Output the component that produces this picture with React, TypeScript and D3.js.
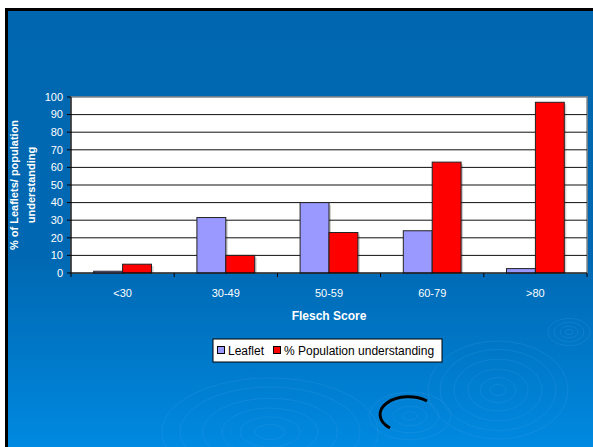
import React from 'react';
import * as d3 from 'd3';

const categories = ['<30', '30-49', '50-59', '60-79', '>80'];
const seriesNames = ['Leaflet', '% Population understanding'];
const leafletValues = [1, 31.5, 40, 24, 2.5];
const populationValues = [5, 10, 23, 63, 97];
const yTicks = [0, 10, 20, 30, 40, 50, 60, 70, 80, 90, 100];
const seriesColors = ['#9999ff', '#ff0000'];

const W = 593;
const H = 447;
const plot = { left: 71, right: 587, top: 97, bottom: 273 };
const font = '"Liberation Sans", Arial, sans-serif';

export default function App() {
  const x = d3.scaleBand<string>().domain(categories).range([plot.left, plot.right]);
  const bw = x.bandwidth();
  const xs = d3.scaleBand<string>().domain(seriesNames).range([bw * 0.22, bw * 0.78]);
  const y = d3.scaleLinear().domain([0, 100]).range([plot.bottom, plot.top]);

  const rows = categories.map((c, i) => ({ cat: c, vals: [leafletValues[i], populationValues[i]] }));

  return (
    <svg width={W} height={H} style={{ position: 'absolute', left: 0, top: 0 }} fontFamily={font}>
      <defs>
        <linearGradient id="bg" x1="0" y1="0" x2="0" y2="1">
          <stop offset="0" stopColor="#0066b0" />
          <stop offset="0.55" stopColor="#0068b2" />
          <stop offset="0.8" stopColor="#007bcc" />
          <stop offset="1" stopColor="#008ce4" />
        </linearGradient>
      </defs>
      <rect width={W} height={H} fill="#fff" />
      <rect x={5} y={8} width={W} height={H} fill="#000" />
      <rect x={8} y={11} width={W} height={H} fill="url(#bg)" />

      {/* ripples */}
      <g fill="none" stroke="#3d9ce6" strokeOpacity={0.25}>
        {[10, 20, 32, 45, 60, 72].map(r => (
          <ellipse key={'a' + r} cx={270} cy={432} rx={r * 1.5} ry={r * 0.75} />
        ))}
        {[8, 18, 30, 44, 58, 70].map(r => (
          <ellipse key={'b' + r} cx={498} cy={390} rx={r} ry={r * 0.7} />
        ))}
        {[4, 9, 15, 21].map(r => (
          <ellipse key={'c' + r} cx={569} cy={332} rx={r} ry={r * 0.65} />
        ))}
        {[6, 14, 24, 34].map(r => (
          <ellipse key={'d' + r} cx={410} cy={416} rx={r * 1.2} ry={r * 0.7} />
        ))}
      </g>
      <path d="M 390 428 A 24 15 0 0 1 427 401" fill="none" stroke="#000" strokeWidth={3} />

      {/* plot area */}
      <rect x={plot.left} y={plot.top} width={plot.right - plot.left} height={plot.bottom - plot.top}
        fill="#fff" stroke="#888" strokeWidth={1.5} />
      {yTicks.filter(t => t > 0 && t < 100).map(t => (
        <line key={t} x1={plot.left} x2={plot.right} y1={y(t)} y2={y(t)} stroke="#111" strokeWidth={1} />
      ))}

      {/* bars */}
      {rows.map(r => (
        <g key={r.cat} transform={`translate(${x(r.cat)},0)`}>
          {r.vals.map((v, j) => (
            <rect key={'s' + j} x={(xs(seriesNames[j]) as number) + 2} y={y(v) + 2}
              width={xs.bandwidth()} height={plot.bottom - y(v) - 2} fill="#000" fillOpacity={0.18} />
          ))}
          {r.vals.map((v, j) => (
            <rect key={j} x={xs(seriesNames[j])} y={y(v)} width={xs.bandwidth()}
              height={plot.bottom - y(v)} fill={seriesColors[j]} stroke="#222" strokeWidth={1} />
          ))}
        </g>
      ))}

      {/* y axis */}
      <line x1={plot.left} x2={plot.left} y1={plot.top} y2={plot.bottom} stroke="#000" />
      {yTicks.map(t => (
        <g key={t}>
          <line x1={plot.left - 4} x2={plot.left} y1={y(t)} y2={y(t)} stroke="#000" />
          <text x={plot.left - 8} y={y(t)} dy="0.35em" textAnchor="end" fontSize={11} fill="#fff">{t}</text>
        </g>
      ))}

      {/* x axis */}
      <line x1={plot.left} x2={plot.right} y1={plot.bottom} y2={plot.bottom} stroke="#000" />
      {categories.map((c, i) => (
        <line key={'t' + i} x1={x(c)} x2={x(c)} y1={plot.bottom} y2={plot.bottom + 4} stroke="#000" />
      ))}
      <line x1={plot.right} x2={plot.right} y1={plot.bottom} y2={plot.bottom + 4} stroke="#000" />
      {categories.map(c => (
        <text key={c} x={(x(c) as number) + bw / 2} y={297} textAnchor="middle" fontSize={11} fill="#fff">{c}</text>
      ))}
      <text x={(plot.left + plot.right) / 2} y={320} textAnchor="middle" fontSize={12} fontWeight="bold" fill="#fff">Flesch Score</text>

      {/* y title */}
      <g transform={`translate(18,${(plot.top + plot.bottom) / 2}) rotate(-90)`}>
        <text x={0} y={0} textAnchor="middle" fontSize={11} fontWeight="bold" fill="#fff">% of Leaflets/ population</text>
        <text x={0} y={17} textAnchor="middle" fontSize={11} fontWeight="bold" fill="#fff">understanding</text>
      </g>

      {/* legend */}
      <rect x={213} y={339} width={229} height={23} fill="#fff" stroke="#000" />
      <rect x={217.5} y={346.5} width={7} height={7} fill={seriesColors[0]} stroke="#000" />
      <text x={228} y={355} fontSize={12} fill="#000">{seriesNames[0]}</text>
      <rect x={273.5} y={346.5} width={7} height={7} fill={seriesColors[1]} stroke="#000" />
      <text x={284} y={355} fontSize={12} fill="#000">{seriesNames[1]}</text>
    </svg>
  );
}
